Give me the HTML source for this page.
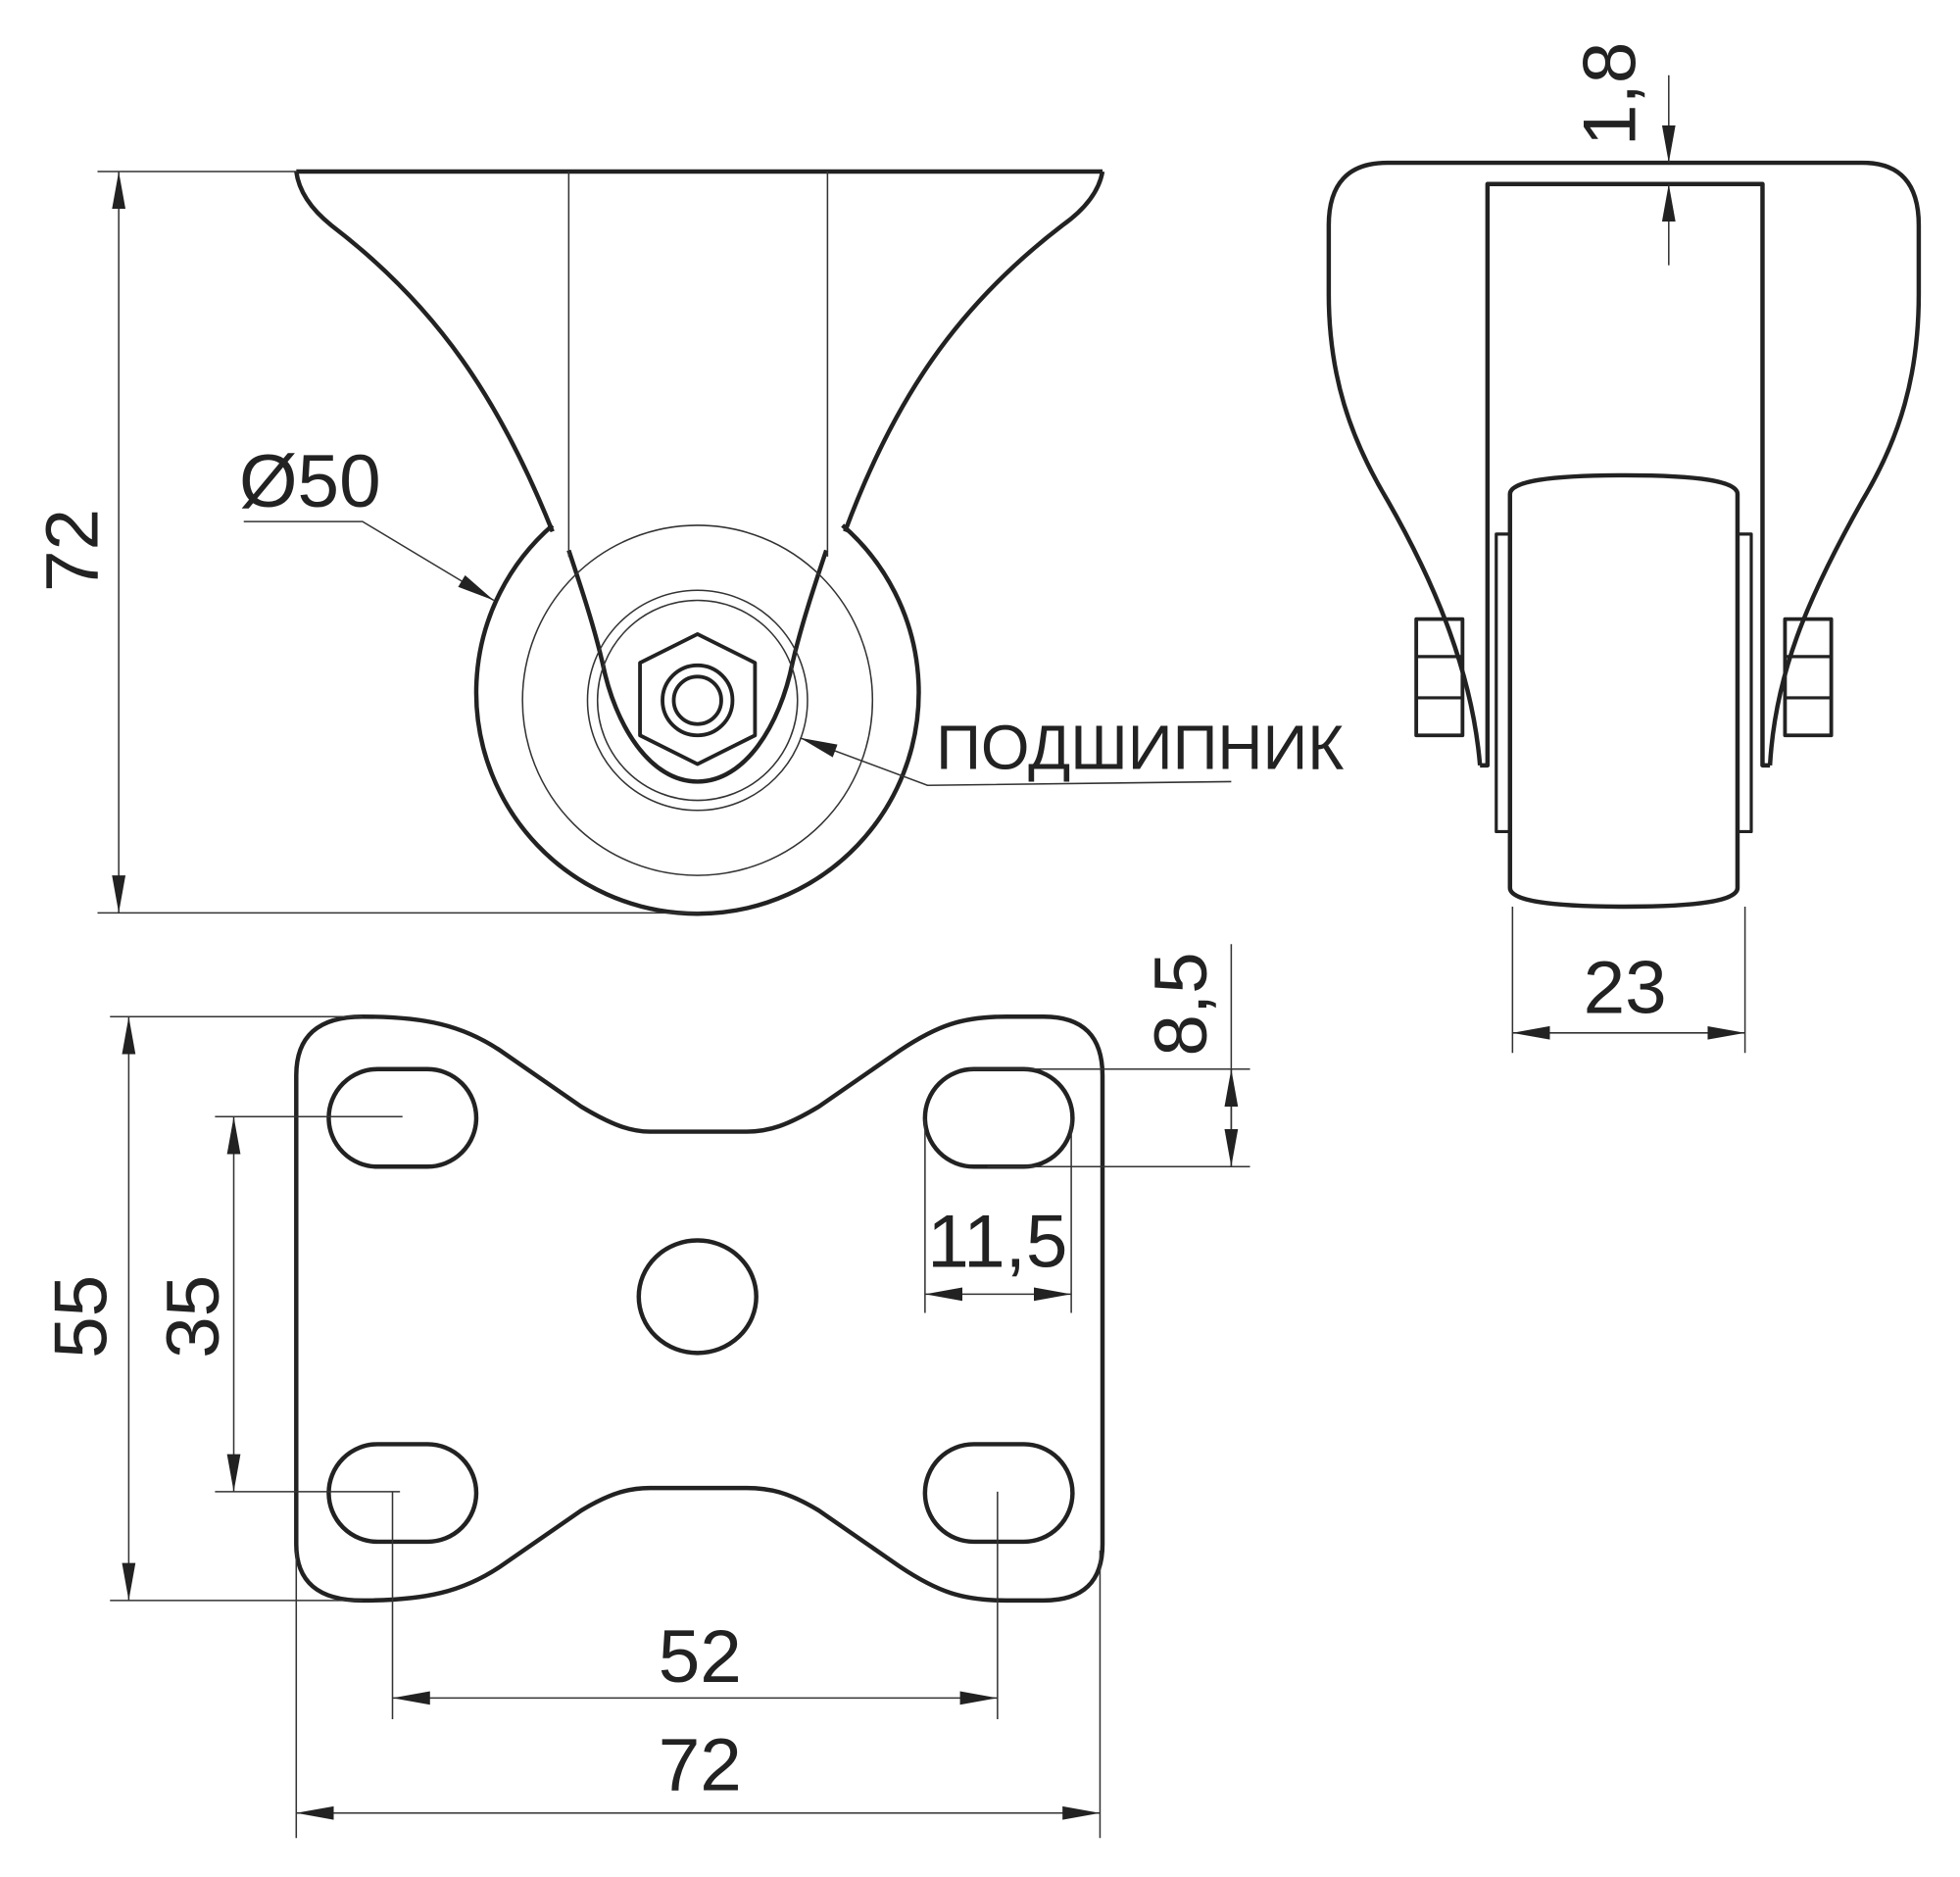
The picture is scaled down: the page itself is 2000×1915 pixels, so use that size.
<!DOCTYPE html>
<html><head><meta charset="utf-8"><style>html,body{margin:0;padding:0;background:#fff}svg{display:block}</style></head>
<body>
<svg width="2000" height="1915" viewBox="0 0 1568 1501" xmlns="http://www.w3.org/2000/svg" font-family="'Liberation Sans','DejaVu Sans',sans-serif">
<defs>
<marker id="a" viewBox="0 0 10 10" refX="10" refY="5" markerWidth="30" markerHeight="12" markerUnits="userSpaceOnUse" orient="auto-start-reverse" preserveAspectRatio="none"><path d="M0,0.5 L10,5 L0,9.5 Z" fill="#222"/></marker>
</defs>
<g fill="none" stroke="#222" stroke-width="3.5" stroke-linejoin="round">
<path d="M237,137 L882,137"/>
<path d="M237,137 Q240,160 265,180 C350,245 400,320 442,425"/>
<path d="M882,137 Q878,160 850,180 C765,245 715,320 676,425"/>
<path d="M455,440 C465,470 475,500 482,530 C492,580 520,625 558,625 C596,625 624,580 634,530 C641,500 651,470 661,440"/>
<path d="M442,420 A177,177 0 1 0 674,420"/>
<path d="M512,530 L558,507 L604,530 L604,588 L558,611 L512,588 Z" stroke-width="3"/>
<circle cx="558" cy="560" r="28" stroke-width="3"/>
<circle cx="558" cy="560" r="19" stroke-width="3"/>
<path d="M1063,235 L1063,180 Q1063,130 1110,130 L1490,130 Q1535,130 1535,180 L1535,235 C1535,300 1520,350 1490,400 C1445,480 1420,540 1416,612"/>
<path d="M1063,235 C1063,300 1080,350 1110,400 C1150,470 1178,540 1184,612"/>
<path d="M1184,612 L1190,612 L1190,147 L1410,147 L1410,612 L1416,612"/>
<path d="M1208,395 Q1208,380 1300,380 Q1390,380 1390,395 L1390,710 Q1390,725 1300,725 Q1208,725 1208,710 Z"/>
<rect x="1197" y="427" width="11" height="238" stroke-width="2.5"/>
<rect x="1390" y="427" width="11" height="238" stroke-width="2.5"/>
<rect x="1133" y="495" width="37" height="93" stroke-width="3"/>
<rect x="1428" y="495" width="37" height="93" stroke-width="3"/>
<path d="M1133,525 H1170 M1133,558 H1170 M1428,525 H1465 M1428,558 H1465" stroke-width="2.5"/>
<path d="M290,813 C340,813 370,820 400,840 L465,885 C490,900 505,905 520,905 L597,905 C615,905 630,900 655,885 L720,840 C750,820 770,813 805,813 L835,813 Q882,813 882,860 L882,1235 Q882,1280 835,1280 L805,1280 C770,1280 750,1273 720,1253 L655,1208 C630,1193 615,1190 597,1190 L520,1190 C505,1190 490,1193 465,1208 L400,1253 C370,1273 340,1280 290,1280 Q237,1280 237,1235 L237,860 Q237,813 290,813 Z"/>
<rect x="263" y="855" width="118" height="78" rx="39"/>
<rect x="740" y="855" width="118" height="78" rx="39"/>
<rect x="263" y="1155" width="118" height="78" rx="39"/>
<rect x="740" y="1155" width="118" height="78" rx="39"/>
<ellipse cx="558" cy="1037" rx="47" ry="45"/>
</g>
<g fill="none" stroke="#333" stroke-width="1.2">
<path d="M455,137 V445 M662,137 V445"/>
<circle cx="558" cy="560" r="140"/>
<circle cx="558" cy="560" r="88"/>
<circle cx="558" cy="560" r="80"/>
<path d="M78,137 H237 M78,730 H560"/>
<path d="M95,137 V730" marker-start="url(#a)" marker-end="url(#a)"/>
<path d="M195,417 H290 L395,480" marker-end="url(#a)"/>
<path d="M985,625 L742,628 L640,590" marker-end="url(#a)"/>
<path d="M1335,60 V130" marker-end="url(#a)"/>
<path d="M1335,212 V147" marker-end="url(#a)"/>
<path d="M1210,725 V842 M1396,725 V842"/>
<path d="M1210,826 H1396" marker-start="url(#a)" marker-end="url(#a)"/>
<path d="M88,813 H290 M88,1280 H290"/>
<path d="M103,813 V1280" marker-start="url(#a)" marker-end="url(#a)"/>
<path d="M172,893 H322 M172,1193 H320"/>
<path d="M187,893 V1193" marker-start="url(#a)" marker-end="url(#a)"/>
<path d="M314,1193 V1375 M798,1193 V1375"/>
<path d="M314,1358 H798" marker-start="url(#a)" marker-end="url(#a)"/>
<path d="M237,1240 V1470 M880,1240 V1470"/>
<path d="M237,1450 H880" marker-start="url(#a)" marker-end="url(#a)"/>
<path d="M775,855 H1000 M790,933 H1000"/>
<path d="M985,755 V933"/>
<path d="M985,895 V855" marker-end="url(#a)"/>
<path d="M985,895 V933" marker-end="url(#a)"/>
<path d="M740,895 V1050 M857,895 V1050"/>
<path d="M740,1035 H857" marker-start="url(#a)" marker-end="url(#a)"/>
</g>
<g fill="#222" font-size="60" text-anchor="middle">
<text transform="translate(78,440) rotate(-90)">72</text>
<text x="248" y="405">Ø50</text>
<text x="912" y="615" font-size="50">ПОДШИПНИК</text>
<text transform="translate(1308,75) rotate(-90)">1,8</text>
<text x="1300" y="810">23</text>
<text transform="translate(85,1053) rotate(-90)">55</text>
<text transform="translate(175,1053) rotate(-90)">35</text>
<text x="560" y="1345">52</text>
<text x="560" y="1432">72</text>
<text transform="translate(965,803) rotate(-90)">8,5</text>
<text x="798" y="1013">11,5</text>
</g>
</svg>
</body></html>
